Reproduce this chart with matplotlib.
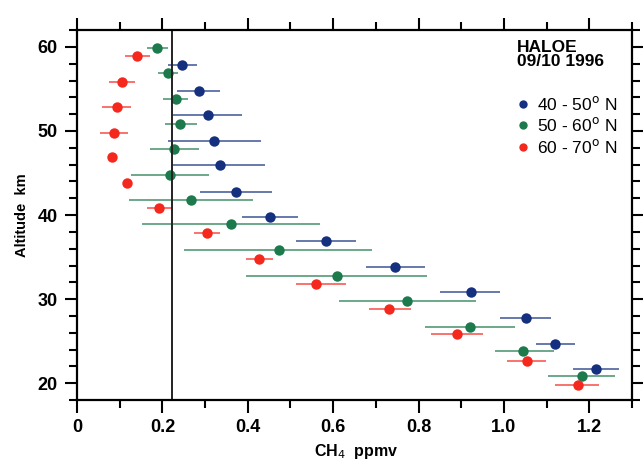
import matplotlib
matplotlib.use("Agg")
import matplotlib.pyplot as plt
from matplotlib.lines import Line2D
from matplotlib.ticker import MultipleLocator

plt.rcParams['font.family'] = ['Liberation Sans', 'DejaVu Sans']

# 40 - 50 N
alt_a = [57.9, 54.8, 51.9, 48.8, 45.9, 42.8, 39.8, 36.9, 33.8, 30.8, 27.8, 24.7, 21.7]
ch4_a = [0.246, 0.285, 0.307, 0.322, 0.336, 0.373, 0.451, 0.583, 0.746, 0.922, 1.051, 1.119, 1.216]
lo_a = [0.213, 0.235, 0.225, 0.213, 0.225, 0.289, 0.386, 0.512, 0.676, 0.851, 0.991, 1.075, 1.162]
hi_a = [0.280, 0.334, 0.386, 0.432, 0.441, 0.457, 0.518, 0.654, 0.816, 0.992, 1.111, 1.166, 1.270]

# 50 - 60 N
alt_b = [59.9, 56.9, 53.8, 50.8, 47.9, 44.8, 41.8, 38.9, 35.8, 32.8, 29.8, 26.7, 23.8, 20.8]
ch4_b = [0.188, 0.213, 0.231, 0.242, 0.228, 0.218, 0.266, 0.361, 0.472, 0.609, 0.773, 0.920, 1.045, 1.183]
lo_b = [0.163, 0.190, 0.202, 0.205, 0.171, 0.127, 0.122, 0.153, 0.250, 0.396, 0.614, 0.816, 0.979, 1.103]
hi_b = [0.213, 0.236, 0.260, 0.280, 0.285, 0.308, 0.412, 0.570, 0.692, 0.821, 0.934, 1.026, 1.117, 1.260]

# 60 - 70 N
alt_c = [58.9, 55.8, 52.8, 49.8, 46.9, 43.8, 40.8, 37.9, 34.8, 31.8, 28.8, 25.8, 22.7, 19.8]
ch4_c = [0.140, 0.105, 0.0925, 0.086, 0.083, 0.118, 0.192, 0.305, 0.427, 0.561, 0.732, 0.890, 1.054, 1.173]
lo_c = [0.113, 0.075, 0.058, 0.054, 0.075, 0.108, 0.163, 0.273, 0.396, 0.514, 0.684, 0.829, 1.008, 1.120]
hi_c = [0.171, 0.135, 0.126, 0.120, 0.091, 0.128, 0.223, 0.336, 0.458, 0.631, 0.782, 0.951, 1.099, 1.224]

labels = ['40 - 50$^{\\rm o}$ N', '50 - 60$^{\\rm o}$ N', '60 - 70$^{\\rm o}$ N']
colors = ['#14307f', '#1d7a4c', '#f5281e']
ref_value = 0.222

fig = plt.figure(figsize=(6.43, 4.63), dpi=100)
ax = fig.add_axes([0.1198, 0.136, 0.863, 0.799])

series = [(ch4_a, alt_a, lo_a, hi_a), (ch4_b, alt_b, lo_b, hi_b), (ch4_c, alt_c, lo_c, hi_c)]
for (x, y, lo, hi), col in zip(series, colors):
    xerr = [[xi - l for xi, l in zip(x, lo)], [h - xi for xi, h in zip(x, hi)]]
    ax.errorbar(x, y, xerr=xerr, fmt='none', ecolor=col, elinewidth=1.3,
                alpha=0.7, capsize=0)
    ax.plot(x, y, 'o', color=col, markersize=7.5, markeredgewidth=0)

ax.axvline(ref_value, color='#222222', lw=1.4)

ax.set_xlim(0, 1.3)
ax.set_ylim(18, 62)
ax.xaxis.set_major_locator(MultipleLocator(0.2))
ax.xaxis.set_minor_locator(MultipleLocator(0.1))
ax.yaxis.set_major_locator(MultipleLocator(10))
ax.yaxis.set_minor_locator(MultipleLocator(2))
ax.set_xticks([0, 0.2, 0.4, 0.6, 0.8, 1.0, 1.2])
ax.set_xticklabels(['0', '0.2', '0.4', '0.6', '0.8', '1.0', '1.2'])

ax.tick_params(which='both', direction='out', top=True, right=True, width=1.5,
               labelsize=13, pad=5)
ax.tick_params(which='major', length=9)
ax.tick_params(which='minor', length=6)
for lab in ax.get_xticklabels() + ax.get_yticklabels():
    lab.set_fontweight('bold')
for sp in ax.spines.values():
    sp.set_linewidth(1.6)

fig.text(22 / 643, 1 - 215 / 463, 'Altitude  km', rotation=90, ha='center',
         va='center', fontsize=10.5, fontweight='bold')
fig.text(356 / 643, 2 / 463, 'CH$_4$  ppmv', ha='center', va='bottom',
         fontsize=11.5, fontweight='bold')

ax.text(0.793, 0.972, 'HALOE\n09/10 1996', transform=ax.transAxes, ha='left',
        va='top', fontsize=12.5, fontweight='bold', linespacing=0.9)
handles = [Line2D([], [], marker='o', ls='none', color=c, markersize=6,
                  markeredgewidth=0) for c in colors]
ax.legend(handles, labels, loc='upper left', bbox_to_anchor=(0.776, 0.848),
          frameon=False, fontsize=12.5, handlelength=0.8, handletextpad=0.4,
          labelspacing=0.2, borderpad=0)

fig.savefig('out.png', dpi=100)
